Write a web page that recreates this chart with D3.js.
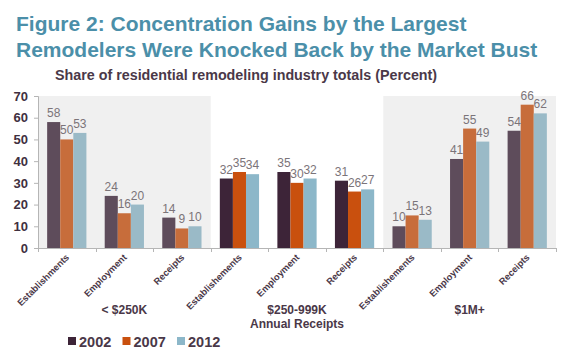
<!DOCTYPE html>
<html><head><meta charset="utf-8">
<script src="https://cdn.jsdelivr.net/npm/d3@7"></script>
<style>
body{margin:0;background:#fff;}
svg{display:block;font-family:"Liberation Sans",Arial,sans-serif;}
</style></head><body>
<svg id="c" width="576" height="358"></svg>
<script>
const categories = ["Establishments","Employment","Receipts","Establishements","Employment","Receipts","Establishements","Employment","Receipts"];
const groups = ["< $250K","$250-999K","$1M+"];
const years = ["2002","2007","2012"];
const v2002 = [58,24,14,32,35,31,10,41,54];
const v2007 = [50,16,9,35,30,26,15,55,66];
const v2012 = [53,20,10,34,32,27,13,49,62];
const yTicks = [0,10,20,30,40,50,60,70];
const colors = ["#3d2438","#c9500e","#8cb7c9"];
const series = [v2002, v2007, v2012];

const svg = d3.select("#c");
const x = d3.scaleBand().domain(d3.range(categories.length)).range([38,556]);
const xs = d3.scaleBand().domain(years).range([0, x.bandwidth()]).paddingOuter(0.7);
const y = d3.scaleLinear().domain([0,70]).range([248,96]);

// title
svg.append("text").attr("x",16).attr("y",31).attr("fill","#4b8fa9").attr("font-weight","bold").attr("font-size",21)
  .text("Figure 2: Concentration Gains by the Largest");
svg.append("text").attr("x",16).attr("y",57).attr("fill","#4b8fa9").attr("font-weight","bold").attr("font-size",21)
  .text("Remodelers Were Knocked Back by the Market Bust");
svg.append("text").attr("x",55).attr("y",80).attr("fill","#4a3848").attr("font-weight","bold").attr("font-size",14.3)
  .text("Share of residential remodeling industry totals (Percent)");

// bars
const data = [];
categories.forEach((c,i)=>years.forEach((yr,j)=>data.push({i,yr,j,v:series[j][i]})));
svg.append("g").selectAll("rect").data(data).join("rect")
  .attr("x",d=>x(d.i)+xs(d.yr)).attr("width",xs.bandwidth())
  .attr("y",d=>y(d.v)).attr("height",d=>y(0)-y(d.v)).attr("fill",d=>colors[d.j]);

// shaded overlays for first and third groups
[0,2].forEach(g=>{
  svg.append("rect").attr("x",x(g*3)).attr("width",x.bandwidth()*3)
    .attr("y",y(70)).attr("height",y(0)-y(70))
    .attr("fill","rgb(196,196,196)").attr("fill-opacity",0.25);
});

// value labels
svg.append("g").selectAll("text").data(data).join("text")
  .attr("x",d=>x(d.i)+xs(d.yr)+xs.bandwidth()/2).attr("y",d=>y(d.v)-5)
  .attr("text-anchor","middle").attr("font-size",12).attr("fill","#7b7479")
  .text(d=>d.v);

// y axis
const ya = svg.append("g").attr("transform","translate(38,0)")
  .call(d3.axisLeft(y).tickValues(yTicks).tickSize(4).tickPadding(6));
ya.select(".domain").attr("stroke","#b5b5b5");
ya.selectAll(".tick line").attr("stroke","#b5b5b5");
ya.selectAll("text").attr("font-size",13).attr("font-weight","bold").attr("fill","#3f3040")
  .attr("font-family","'Liberation Sans',Arial,sans-serif");

// x axis baseline + boundary ticks
svg.append("line").attr("x1",38).attr("x2",556).attr("y1",y(0)+0.5).attr("y2",y(0)+0.5).attr("stroke","#b5b5b5");
d3.range(categories.length+1).forEach(k=>{
  const xx = k<categories.length ? x(k) : x(categories.length-1)+x.bandwidth();
  svg.append("line").attr("x1",Math.round(xx)+0.5).attr("x2",Math.round(xx)+0.5)
    .attr("y1",y(0)).attr("y2",y(0)+4).attr("stroke","#b5b5b5");
});

// category labels
svg.append("g").selectAll("text").data(categories).join("text")
  .attr("transform",(d,i)=>`translate(${x(i)+x.bandwidth()/2+3},258) rotate(-45)`)
  .attr("text-anchor","end").attr("font-size",9.3).attr("font-weight","bold").attr("fill","#4a3848")
  .text(d=>d);

// group labels
groups.forEach((g,k)=>{
  svg.append("text").attr("x",x(k*3+1)+x.bandwidth()/2).attr("y",314)
    .attr("text-anchor","middle").attr("font-size",12).attr("font-weight","bold").attr("fill","#4a3848").text(g);
});
svg.append("text").attr("x",x(4)+x.bandwidth()/2).attr("y",327.5)
  .attr("text-anchor","middle").attr("font-size",12).attr("font-weight","bold").attr("fill","#4a3848").text("Annual Receipts");

// legend
const lg = svg.append("g").attr("transform","translate(68,337)");
years.forEach((yr,j)=>{
  const g = lg.append("g").attr("transform",`translate(${j*54.5},0)`);
  g.append("rect").attr("width",8).attr("height",8).attr("fill",colors[j]);
  g.append("text").attr("x",11).attr("y",9.5).attr("font-size",14.5).attr("font-weight","bold").attr("fill","#4a3848").text(yr);
});
</script>
</body></html>
